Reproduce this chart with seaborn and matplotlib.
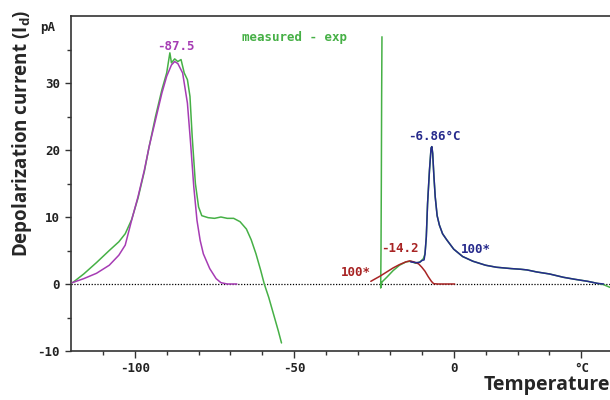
import numpy as np
import pandas as pd
import matplotlib
matplotlib.use("Agg")
import matplotlib.pyplot as plt
import seaborn as sns

# ---- data ----
purple_T = [-119.6, -116, -112, -108, -105, -103, -101, -99, -97, -95.5, -93.5, -91.5, -90, -88.5,
            -87.5, -86.5, -85, -83.5, -82.5, -81.5, -80.5, -79.5, -78.5, -76.5, -74.5, -73, -71, -68]
purple_I = [0.2, 0.8, 1.6, 2.8, 4.3, 5.8, 9.5, 13, 17, 20.5, 24.5, 28.5, 31, 32.7,
            33.2, 32.9, 31.5, 27, 21, 14.5, 9.5, 6.5, 4.5, 2.3, 0.8, 0.2, 0.0, 0.0]

green_left_T = [-119.5, -116, -112, -108, -105, -103, -101, -99, -97, -95.5, -93.5, -91.5, -90, -89,
                -88.5, -87.5, -86.5, -85.5, -84.5, -83.5, -82.7, -82, -81, -80, -79, -77, -75, -73,
                -71, -69, -67, -65, -63.5, -62, -60.5, -59.4, -58, -56.5, -55, -54]
green_left_I = [0.2, 1.5, 3.2, 5.0, 6.3, 7.5, 9.6, 12.8, 16.8, 20.5, 25, 29, 31.5, 34.5,
                33, 33.6, 33.2, 33.5, 31.5, 30.5, 28, 22, 15, 11.5, 10.2, 9.9, 9.8, 10,
                9.8, 9.8, 9.3, 8.2, 6.6, 4.5, 2, 0, -2, -4.5, -7, -8.8]

green_right_T = [-22.5, -22.6, -22.7, -22.8, -22.9, -22.5, -21, -19, -17, -15, -13.5, -12, -10.5,
                 -9.5, -9, -8.6, -8.2, -7.6, -7.1, -6.86, -6.6, -6.2, -5.8, -5.2, -4.5, -3.5, -2.2,
                 0, 2.8, 6, 10, 13.4, 18, 21, 23, 26, 30, 34.4, 38, 42, 45, 47, 49]
green_right_I = [36.9, 28, 15, 5, -0.6, 0.3, 1.0, 2.0, 2.8, 3.3, 3.4, 3.1, 3.3,
                 3.8, 4.5, 7, 12, 17, 20.3, 20.5, 19.5, 16, 13, 10.2, 8.8, 7.5, 6.6,
                 5.2, 4.1, 3.4, 2.8, 2.5, 2.3, 2.2, 2.1, 1.8, 1.5, 1.0, 0.7, 0.4, 0.1, -0.1, -0.5]

red_T = [-26, -24.5, -23, -21, -19, -17, -15, -13.8, -12.5, -11, -10, -9, -8, -7, -6.3, -5, 0.3]
red_I = [0.4, 0.8, 1.2, 1.8, 2.4, 2.9, 3.3, 3.45, 3.3, 3.0, 2.5, 1.9, 1.1, 0.4, 0.05, 0, 0]

blue_T = [-13.5, -12, -11, -10.5, -10, -9.3, -9, -8.6, -8.2, -7.6, -7.1, -6.86, -6.6, -6.2, -5.8,
          -5.2, -4.5, -3.5, -2.2, 0, 2.8, 6, 10, 13.4, 18, 21, 23, 26, 30, 34.4, 38, 42, 45, 47]
blue_I = [3.3, 3.2, 3.2, 3.3, 3.5, 3.6, 4.5, 7, 12, 17, 20.3, 20.5, 19.5, 16, 13,
          10.2, 8.8, 7.5, 6.6, 5.2, 4.1, 3.4, 2.8, 2.5, 2.3, 2.2, 2.1, 1.8, 1.5, 1.0, 0.7, 0.4, 0.1, 0.0]

x_major = [-100, -50, 0, 40]
x_major_labels = ["-100", "-50", "0", "°C"]
y_major = [-10, 0, 10, 20, 30]
y_major_labels = ["-10", "0", "10", "20", "30"]

# ---- build frames ----
def frame(T, I, name):
    return pd.DataFrame({"T": T, "I": I, "series": name, "order": np.arange(len(T))})

GREEN = "#46b046"
PURPLE = "#a63cb4"
RED = "#a82424"
BLUE = "#262a8c"

sns.set_theme(style="white")
plt.rcParams["font.family"] = ["DejaVu Sans"]

fig = plt.figure(figsize=(6.1, 4.0), dpi=100)
ax = fig.add_axes([71 / 610, 49 / 400, 1 - 71 / 610, 335 / 400])

ax.axhline(0, color="black", lw=0.9, ls=(0, (1.0, 1.3)), zorder=1)

for T, I, name, col in [
    (green_left_T, green_left_I, "gl", GREEN),
    (green_right_T, green_right_I, "gr", GREEN),
    (purple_T, purple_I, "p", PURPLE),
    (red_T, red_I, "r", RED),
    (blue_T, blue_I, "b", BLUE),
]:
    sns.lineplot(data=frame(T, I, name), x="T", y="I", sort=False, estimator=None,
                 color=col, lw=1.1, ax=ax, zorder=3)

ax.set_xlim(-120, 49)
ax.set_ylim(-10, 40)

mono = "DejaVu Sans Mono"
ax.set_xticks(x_major)
ax.set_xticklabels(x_major_labels, family=mono, fontweight="bold", fontsize=9, color="#222222")
ax.set_xticks(np.arange(-110, 50, 10), minor=True)
ax.set_yticks(y_major)
ax.set_yticklabels(y_major_labels, family=mono, fontweight="bold", fontsize=9, color="#222222")
ax.set_yticks(np.arange(-5, 40, 10), minor=True)
ax.tick_params(axis="x", which="major", direction="out", length=5, width=1, color="#333333",
               bottom=True, pad=3)
ax.tick_params(axis="y", which="major", direction="out", length=4, width=1, color="#333333",
               left=True, pad=4)
ax.tick_params(axis="both", which="minor", direction="out", length=3, width=1, color="#333333",
               bottom=True, left=True)

for s in ["left", "bottom", "top"]:
    ax.spines[s].set_color("#333333")
    ax.spines[s].set_linewidth(1.2)
ax.spines["right"].set_visible(False)
ax.set_xlabel("")
ax.set_ylabel("")

# annotations
def px(x, y, s, col, **kw):
    fig.text(x / 610, 1 - y / 400, s, color=col, ha="center", va="center",
             family=mono, fontweight="bold", fontsize=9, **kw)

px(176, 46, "-87.5", PURPLE)
px(295, 38, "measured - exp", GREEN)
px(400, 248, "-14.2", RED)
px(356, 272, "100*", RED)
px(434, 137, "-6.86°C", BLUE)
px(476, 249, "100*", BLUE)
px(48, 27, "pA", "#222222")

fig.text(22 / 610, 1 - 133 / 400, "Depolarization current (I$_\\mathregular{d}$)", rotation=90,
         ha="center", va="center", family="Open Sans", fontweight="bold", fontsize=13.5)
fig.text(547 / 610, 1 - 385 / 400, "Temperature", ha="center", va="center",
         family="Open Sans", fontweight="bold", fontsize=14)

fig.savefig("out.png", dpi=100)
